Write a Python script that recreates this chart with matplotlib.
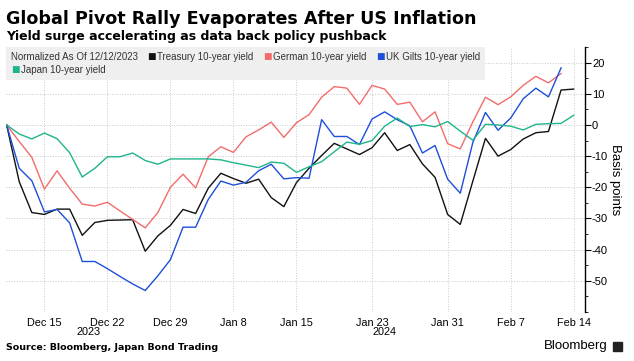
import numpy as np
import matplotlib
matplotlib.use("Agg")
import matplotlib.pyplot as plt
from matplotlib.offsetbox import TextArea, HPacker, VPacker, AnchoredOffsetbox
from matplotlib.patches import Rectangle
from matplotlib.ticker import MultipleLocator

plt.rcParams['font.family'] = ['Liberation Sans', 'DejaVu Sans']
plt.rcParams['axes.unicode_minus'] = False

# trading days shown on the chart (no Jan 1)
dates = ['2023-12-12', '2023-12-13', '2023-12-14', '2023-12-15', '2023-12-18',
         '2023-12-19', '2023-12-20', '2023-12-21', '2023-12-22', '2023-12-25',
         '2023-12-26', '2023-12-27', '2023-12-28', '2023-12-29', '2024-01-02',
         '2024-01-03', '2024-01-04', '2024-01-05', '2024-01-08', '2024-01-09',
         '2024-01-10', '2024-01-11', '2024-01-12', '2024-01-15', '2024-01-16',
         '2024-01-17', '2024-01-18', '2024-01-19', '2024-01-22', '2024-01-23',
         '2024-01-24', '2024-01-25', '2024-01-26', '2024-01-29', '2024-01-30',
         '2024-01-31', '2024-02-01', '2024-02-02', '2024-02-05', '2024-02-06',
         '2024-02-07', '2024-02-08', '2024-02-09', '2024-02-12', '2024-02-13',
         '2024-02-14']

treasury = [0, -18.2, -28.1, -28.7, -27.0, -27.0, -35.4, -31.3, -30.6, -30.5,
            -30.4, -40.5, -35.6, -32.2, -27.1, -28.4, -20.3, -15.5, -17.2, -18.7,
            -17.4, -23.3, -26.2, -18.5, -13.9, -9.8, -5.9, -7.7, -9.5, -7.3,
            -2.5, -8.2, -6.3, -12.5, -16.8, -28.7, -31.9, -18.0, -4.3, -10.0,
            -7.9, -4.5, -2.5, -2.1, 11.2, 11.5]
german = [0, -5.3, -10.4, -20.6, -14.7, -20.3, -25.4, -26.0, -24.8, -27.6,
          -30.3, -33.0, -28.1, -20.0, -15.8, -20.2, -10.2, -7.0, -8.8, -3.8,
          -1.6, 0.9, -4.0, 0.7, 3.3, 8.9, 12.3, 11.8, 6.6, 12.7,
          11.5, 6.6, 7.3, 1.0, 4.2, -6.0, -7.7, 1.0, 8.9, 6.5,
          9.0, 12.7, 15.6, 13.5, 16.5]
uk_gilts = [0, -13.9, -17.9, -27.9, -27.1, -31.4, -43.8, -43.8, -46.1, -48.6,
            -51.0, -53.1, -48.4, -43.2, -32.8, -32.8, -23.9, -18.0, -19.3, -18.4,
            -14.7, -12.6, -17.3, -16.9, -17.1, 1.7, -3.7, -3.7, -6.3, 1.9,
            4.2, 1.7, -0.3, -9.0, -6.6, -17.4, -21.9, -5.6, 4.0, -1.7,
            2.2, 8.4, 11.8, 9.0, 18.3]
japan = [0, -2.9, -4.5, -2.6, -4.4, -8.9, -16.7, -13.9, -10.2, -10.2,
         -9.0, -11.4, -12.6, -10.9, -10.9, -10.9, -10.9, -11.2, -12.1, -12.9,
         -13.7, -11.9, -12.3, -15.2, -13.4, -11.8, -8.6, -5.5, -6.2, -5.0,
         -0.4, 2.2, -0.5, 0.1, -0.6, 1.1, -2.0, -4.9, 0.2, 0.0,
         -0.4, -1.6, 0.2, 0.4, 0.5, 3.1]

tick_dates = ['2023-12-15', '2023-12-22', '2023-12-29', '2024-01-08', '2024-01-15',
              '2024-01-23', '2024-01-31', '2024-02-07', '2024-02-14']
tick_labels = ['Dec 15', 'Dec 22', 'Dec 29', 'Jan 8', 'Jan 15', 'Jan 23',
               'Jan 31', 'Feb 7', 'Feb 14']

names = ['Treasury 10-year yield', 'German 10-year yield',
         'UK Gilts 10-year yield', 'Japan 10-year yield']
colors = ['#111111', '#f26c6c', '#1d4fd8', '#1fb48c']

fig = plt.figure(figsize=(6.34, 3.61), dpi=100)
ax = fig.add_axes([6/634, 1 - 312/361, (585 - 6)/634, (312 - 47)/361])

x = np.arange(len(dates))
for vals, c in zip([treasury, german, uk_gilts, japan], colors):
    ax.plot(x[:len(vals)], vals, color=c, lw=1.0)

xmax = 45.9
ax.set_xlim(-0.05, xmax)
ax.set_ylim(-60, 25)

ax.set_xticks([dates.index(d) for d in tick_dates])
ax.set_xticklabels(tick_labels)
ax.set_yticks(range(-50, 21, 10))
ax.yaxis.set_minor_locator(MultipleLocator(5))
ax.yaxis.tick_right()
ax.yaxis.set_label_position('right')
ax.set_ylabel('Basis points', rotation=270, fontsize=9.5, labelpad=9)

for s in ['top', 'left', 'bottom']:
    ax.spines[s].set_visible(False)
ax.spines['right'].set_linewidth(1.0)
ax.tick_params(axis='y', which='major', length=4, width=0.8, labelsize=8, pad=1)
ax.tick_params(axis='y', which='minor', length=2, width=0.6)
ax.tick_params(axis='x', length=0, labelsize=7.8, pad=4)
ax.grid(True, which='major', color='#c8c8c8', lw=0.7, ls=':')

# year labels centred under each year's span
years = [d[:4] for d in dates]
for yr in sorted(set(years)):
    idx = [i for i, y in enumerate(years) if y == yr]
    lo = max(idx[0], -0.05)
    hi = min(idx[-1] + 1, xmax) if yr == years[-1] else idx[-1]
    ax.text((lo + hi) / 2, -0.074, yr, transform=ax.get_xaxis_transform(),
            ha='center', va='center', fontsize=7.8)

# legend box
def item(label, color):
    return HPacker(children=[TextArea('■', textprops=dict(color=color, fontsize=6.5, family='DejaVu Sans')),
                             TextArea(label, textprops=dict(fontsize=7, color='#333333'))],
                   sep=1, pad=0, align='center')

row1 = HPacker(children=[TextArea('Normalized As Of 12/12/2023', textprops=dict(fontsize=7, color='#333333'))]
               + [item(n, c) for n, c in zip(names[:3], colors[:3])], sep=7, pad=0, align='center')
row2 = HPacker(children=[item(names[3], colors[3])], sep=0, pad=0)
box = VPacker(children=[row1, row2], sep=2, pad=0, align='left')
leg = AnchoredOffsetbox(loc='upper left', child=box, pad=0.35, borderpad=0, frameon=True,
                        bbox_to_anchor=(0, 1), bbox_transform=ax.transAxes)
leg.patch.set_facecolor('#efefef')
leg.patch.set_edgecolor('none')
leg.patch.set_boxstyle('square', pad=0)
leg.set_zorder(5)
ax.add_artist(leg)

fig.text(6/634, 1 - 24/361, 'Global Pivot Rally Evaporates After US Inflation',
         fontsize=12.6, fontweight='bold', family='DejaVu Sans', va='baseline')
fig.text(6/634, 1 - 40/361, 'Yield surge accelerating as data back policy pushback',
         fontsize=9.0, fontweight='bold', family='DejaVu Sans', va='baseline')
fig.text(6/634, 1 - 347/361, 'Source: Bloomberg, Japan Bond Trading',
         fontsize=6.8, fontweight='bold', family='DejaVu Sans', va='center')
fig.text(608/634, 1 - 346/361, 'Bloomberg', fontsize=9.5, ha='right', va='center')
fig.patches.append(Rectangle((613/634, 1 - 351/361), 9/634, 9/361,
                             transform=fig.transFigure, color='#222222'))

fig.savefig('out.png', dpi=100)
